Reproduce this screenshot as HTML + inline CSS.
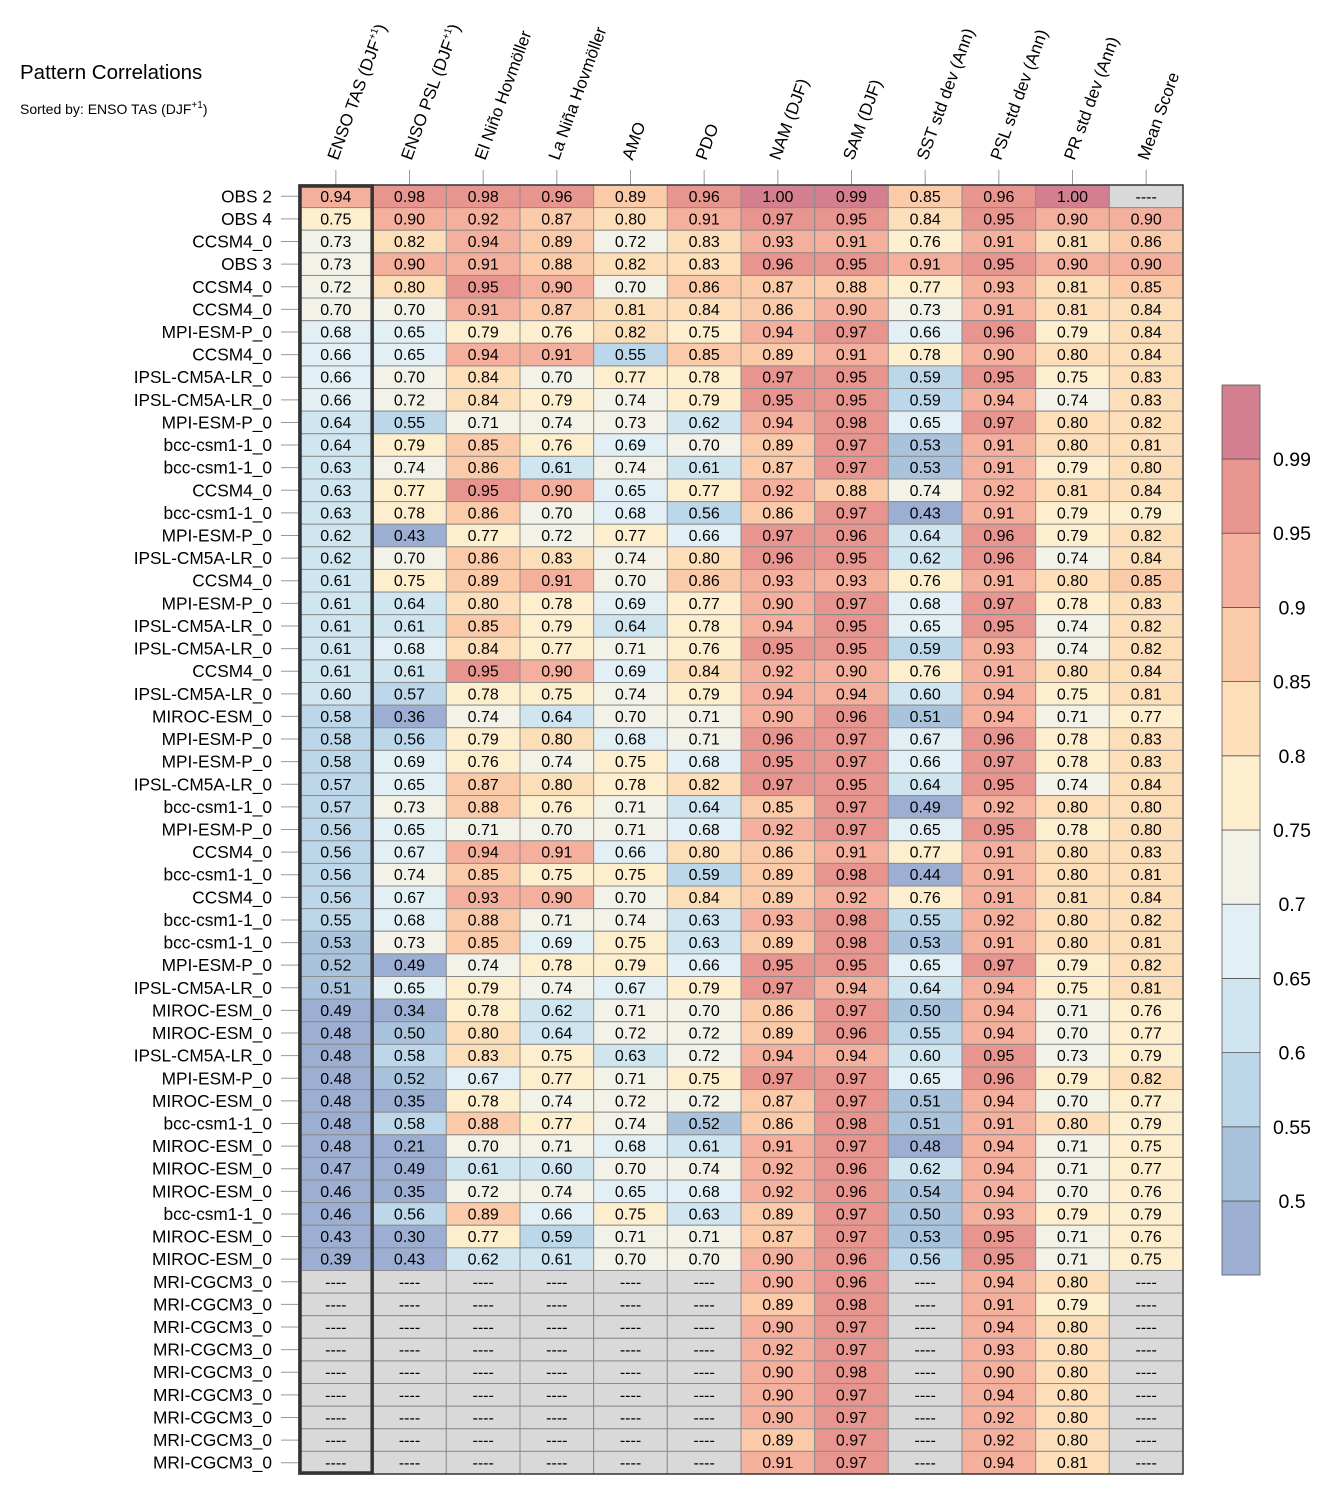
<!DOCTYPE html>
<html><head><meta charset="utf-8"><style>
html,body{margin:0;padding:0;background:#fff;}
svg{display:block;font-family:"Liberation Sans",sans-serif;}
</style></head><body>
<svg id="chart" width="1333" height="1496" xmlns="http://www.w3.org/2000/svg">
<text x="20" y="79" font-size="20.5">Pattern Correlations</text>
<text x="20" y="114" font-size="14">Sorted by: ENSO TAS (DJF<tspan font-size="10" dy="-6">+1</tspan><tspan dy="6">)</tspan></text>
<g id="grid"></g>
<g id="cbar"></g>
</svg>
<script>
const columns = ["ENSO TAS (DJF|+1|)","ENSO PSL (DJF|+1|)","El Niño Hovmöller","La Niña Hovmöller","AMO","PDO","NAM (DJF)","SAM (DJF)","SST std dev (Ann)","PSL std dev (Ann)","PR std dev (Ann)","Mean Score"];
const models = ["OBS 2","OBS 4","CCSM4_0","OBS 3","CCSM4_0","CCSM4_0","MPI-ESM-P_0","CCSM4_0","IPSL-CM5A-LR_0","IPSL-CM5A-LR_0","MPI-ESM-P_0","bcc-csm1-1_0","bcc-csm1-1_0","CCSM4_0","bcc-csm1-1_0","MPI-ESM-P_0","IPSL-CM5A-LR_0","CCSM4_0","MPI-ESM-P_0","IPSL-CM5A-LR_0","IPSL-CM5A-LR_0","CCSM4_0","IPSL-CM5A-LR_0","MIROC-ESM_0","MPI-ESM-P_0","MPI-ESM-P_0","IPSL-CM5A-LR_0","bcc-csm1-1_0","MPI-ESM-P_0","CCSM4_0","bcc-csm1-1_0","CCSM4_0","bcc-csm1-1_0","bcc-csm1-1_0","MPI-ESM-P_0","IPSL-CM5A-LR_0","MIROC-ESM_0","MIROC-ESM_0","IPSL-CM5A-LR_0","MPI-ESM-P_0","MIROC-ESM_0","bcc-csm1-1_0","MIROC-ESM_0","MIROC-ESM_0","MIROC-ESM_0","bcc-csm1-1_0","MIROC-ESM_0","MIROC-ESM_0","MRI-CGCM3_0","MRI-CGCM3_0","MRI-CGCM3_0","MRI-CGCM3_0","MRI-CGCM3_0","MRI-CGCM3_0","MRI-CGCM3_0","MRI-CGCM3_0","MRI-CGCM3_0"];
const values = [
"94 98 98 96 89 96 100 99 85 96 100 -",
"75 90 92 87 80 91 97 95 84 95 90 90",
"73 82 94 89 72 83 93 91 76 91 81 86",
"73 90 91 88 82 83 96 95 91 95 90 90",
"72 80 95 90 70 86 87 88 77 93 81 85",
"70 70 91 87 81 84 86 90 73 91 81 84",
"68 65 79 76 82 75 94 97 66 96 79 84",
"66 65 94 91 55 85 89 91 78 90 80 84",
"66 70 84 70 77 78 97 95 59 95 75 83",
"66 72 84 79 74 79 95 95 59 94 74 83",
"64 55 71 74 73 62 94 98 65 97 80 82",
"64 79 85 76 69 70 89 97 53 91 80 81",
"63 74 86 61 74 61 87 97 53 91 79 80",
"63 77 95 90 65 77 92 88 74 92 81 84",
"63 78 86 70 68 56 86 97 43 91 79 79",
"62 43 77 72 77 66 97 96 64 96 79 82",
"62 70 86 83 74 80 96 95 62 96 74 84",
"61 75 89 91 70 86 93 93 76 91 80 85",
"61 64 80 78 69 77 90 97 68 97 78 83",
"61 61 85 79 64 78 94 95 65 95 74 82",
"61 68 84 77 71 76 95 95 59 93 74 82",
"61 61 95 90 69 84 92 90 76 91 80 84",
"60 57 78 75 74 79 94 94 60 94 75 81",
"58 36 74 64 70 71 90 96 51 94 71 77",
"58 56 79 80 68 71 96 97 67 96 78 83",
"58 69 76 74 75 68 95 97 66 97 78 83",
"57 65 87 80 78 82 97 95 64 95 74 84",
"57 73 88 76 71 64 85 97 49 92 80 80",
"56 65 71 70 71 68 92 97 65 95 78 80",
"56 67 94 91 66 80 86 91 77 91 80 83",
"56 74 85 75 75 59 89 98 44 91 80 81",
"56 67 93 90 70 84 89 92 76 91 81 84",
"55 68 88 71 74 63 93 98 55 92 80 82",
"53 73 85 69 75 63 89 98 53 91 80 81",
"52 49 74 78 79 66 95 95 65 97 79 82",
"51 65 79 74 67 79 97 94 64 94 75 81",
"49 34 78 62 71 70 86 97 50 94 71 76",
"48 50 80 64 72 72 89 96 55 94 70 77",
"48 58 83 75 63 72 94 94 60 95 73 79",
"48 52 67 77 71 75 97 97 65 96 79 82",
"48 35 78 74 72 72 87 97 51 94 70 77",
"48 58 88 77 74 52 86 98 51 91 80 79",
"48 21 70 71 68 61 91 97 48 94 71 75",
"47 49 61 60 70 74 92 96 62 94 71 77",
"46 35 72 74 65 68 92 96 54 94 70 76",
"46 56 89 66 75 63 89 97 50 93 79 79",
"43 30 77 59 71 71 87 97 53 95 71 76",
"39 43 62 61 70 70 90 96 56 95 71 75",
"- - - - - - 90 96 - 94 80 -",
"- - - - - - 89 98 - 91 79 -",
"- - - - - - 90 97 - 94 80 -",
"- - - - - - 92 97 - 93 80 -",
"- - - - - - 90 98 - 90 80 -",
"- - - - - - 90 97 - 94 80 -",
"- - - - - - 90 97 - 92 80 -",
"- - - - - - 89 97 - 92 80 -",
"- - - - - - 91 97 - 94 81 -"
];
const levels = [0.5,0.55,0.6,0.65,0.7,0.75,0.8,0.85,0.9,0.95,0.99];
const levelLabels = ["0.5","0.55","0.6","0.65","0.7","0.75","0.8","0.85","0.9","0.95","0.99"];
const colors = ["#9daed3","#a9c3dd","#bdd7ea","#cfe5ef","#e2f0f5","#f3f2e8","#fdefce","#fcdfb9","#fbcba9","#f4b09c","#e8958f","#d37f8f"];

const NS="http://www.w3.org/2000/svg";
const X0=299, X1=1183, Y0=185, Y1=1474;
const cw=(X1-X0)/columns.length, rh=(Y1-Y0)/models.length;
function colX(i){return X0+i*cw;}
function rowY(j){return Y0+j*rh;}
function colorFor(v){let k=0;while(k<levels.length&&v>=levels[k]-1e-9)k++;return colors[k];}
function mk(tag,attrs,parent){const e=document.createElementNS(NS,tag);for(const k in attrs)e.setAttribute(k,attrs[k]);parent.appendChild(e);return e;}
const g=document.getElementById('grid');
values.forEach((row,j)=>{
  const parts=row.split(' ');
  parts.forEach((p,i)=>{
    const v=p==='-'?null:(+p)/100;
    const r=mk('rect',{x:colX(i),y:rowY(j),width:cw,height:rh,fill:v===null?'#d9d9d9':colorFor(v),stroke:'#8c8c8c','stroke-width':1},g);
    
    
    const t=mk('text',{x:colX(i)+cw/2,y:rowY(j)+rh/2+5.5,'text-anchor':'middle','font-size':16},g);
    t.textContent=v===null?'----':v.toFixed(2);
    
    
  });
  const lab=mk('text',{x:272,y:rowY(j)+rh/2+6,'text-anchor':'end','font-size':17.3},g);
  lab.textContent=models[j];
  
  
  const tk=mk('line',{x1:281,x2:299,y1:rowY(j)+rh/2,y2:rowY(j)+rh/2,stroke:'#999','stroke-width':1},g);
  
  
});
columns.forEach((c,i)=>{
  const cx=colX(i)+cw/2;
  const tk=mk('line',{x1:cx,x2:cx,y1:170,y2:Y0,stroke:'#999','stroke-width':1},g);
  
  
  const t=mk('text',{x:0,y:0,'font-size':17,transform:`translate(${cx+2},161) rotate(-70)`},g);
  
  
  const seg=c.split('|');
  if(seg.length===1){t.textContent=c;}
  else{
    mk('tspan',{},t).textContent=seg[0];
    mk('tspan',{'font-size':10,dy:-7},t).textContent=seg[1];
    mk('tspan',{dy:7},t).textContent=seg[2];
  }
});
mk('rect',{x:X0,y:Y0,width:X1-X0,height:Y1-Y0,fill:'none',stroke:'#333','stroke-width':1.5},g);
const hl=mk('rect',{x:X0+1,y:Y0+1,width:cw-1.5,height:Y1-Y0-2,fill:'none',stroke:'#333','stroke-width':3.5},g);



const cb=document.getElementById('cbar');
const CBX=1222, CBW=38, CBTOP=385, STEP=74.2;
function cbY(k){return 459+(levels.length-1-k)*STEP;}
colors.forEach((c,k)=>{
  const top = k===colors.length-1 ? CBTOP : cbY(k);
  const bot = k===0 ? cbY(0)+STEP-0.2 : cbY(k-1);
  const r=mk('rect',{x:CBX,y:top,width:CBW,height:bot-top,fill:c,stroke:'#555','stroke-width':0.8},cb);
  
  
});
levels.forEach((l,k)=>{
  const t=mk('text',{x:1292,y:cbY(k)+7,'text-anchor':'middle','font-size':19.5},cb);
  t.textContent=levelLabels[k];
  
  
});
</script>
</body></html>
